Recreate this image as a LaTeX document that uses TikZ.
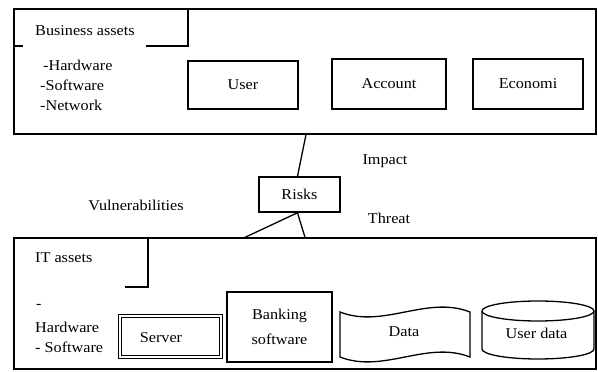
\documentclass[tikz,border=0pt]{standalone}
\usepackage{fontspec}
\setmainfont{Liberation Serif}[FakeStretch=1.08]
\begin{document}
\begin{tikzpicture}[x=1pt, y=-1pt,
  every node/.style={font=\fontsize{15}{18}\selectfont},
  frame/.style={draw, line width=1.3pt, inner sep=0pt},
  itembox/.style={draw, line width=1.5pt, inner sep=0pt},
  lbl/.style={inner sep=0pt},
  link/.style={line width=1.3pt}]
\useasboundingbox (0,0) rectangle (598,372);
\fill[white] (0,0) rectangle (598,372);

% business assets frame and its label tab
\node[frame, minimum width=582pt, minimum height=125pt] (biz) at (305,71.5) {};
\draw[link] (188,9) -- (188,46) -- (146,46);
\draw[link] (14,46) -- (23,46);
\node[lbl, anchor=west] (bizlbl) at (35,31) {Business assets};
\node[lbl, anchor=west] (bizhw) at (43,65) {-Hardware};
\node[lbl, anchor=west] (bizsw) at (40,85) {-Software};
\node[lbl, anchor=west] (biznw) at (40,105) {-Network};

\node[itembox, minimum width=110pt, minimum height=48pt] (user) at (243,85) {User};
\node[itembox, minimum width=114pt, minimum height=50pt] (account) at (389,84) {Account};
\node[itembox, minimum width=110pt, minimum height=50pt] (econ) at (528,84) {Economi};

% risks in the middle
\node[itembox, minimum width=81pt, minimum height=35pt] (risks) at (299.5,194.5) {Risks};
\node[lbl] (impact) at (385,161) {Impact};
\node[lbl] (threat) at (389,218) {Threat};
\node[lbl] (vuln) at (136,205) {Vulnerabilities};

% IT assets frame and its label tab
\node[frame, minimum width=582pt, minimum height=131pt] (its) at (305,303.5) {};
\draw[link] (148,239) -- (148,287) -- (125,287);
\node[lbl, anchor=west] (itlbl) at (35,258) {IT assets};
\node[lbl, anchor=west] (itdash) at (36,306) {-};
\node[lbl, anchor=west] (ithw) at (35,327) {Hardware};
\node[lbl, anchor=west] (itsw) at (35,347) {- Software};

\node[draw, double, double distance=2pt, line width=1pt, inner sep=0pt,
      minimum width=101pt, minimum height=41pt] (server) at (170.5,336.5) {};
\node[lbl] (serverlbl) at (161,338) {Server};

\node[itembox, minimum width=105pt, minimum height=70pt, align=center,
      font=\fontsize{15}{25}\selectfont] (bank) at (279.5,327) {Banking\\software};

% punched tape for the data store
\draw[line width=1.3pt]
  (340,312) .. controls (383.3,329) and (426.7,295) .. (470,312)
  -- (470,357) .. controls (426.7,340) and (383.3,374) .. (340,357) -- cycle;
\node[lbl] (data) at (404,332) {Data};

% user data cylinder
\draw[line width=1.3pt] (482,311) -- (482,349) arc[start angle=180, end angle=360, x radius=56, y radius=-10]
  -- (594,311);
\draw[line width=1.3pt] (538,311) ellipse[x radius=56, y radius=10];
\node[lbl] (udata) at (536.5,333) {User data};

% connectors
\draw[link] ([xshift=1pt]biz.south) -- ([xshift=-2pt]risks.north);
\draw[link] ([xshift=-2pt]risks.south) -- (its.north);
\draw[link] ([xshift=-2pt]risks.south) -- ([xshift=-60pt]its.north);
\end{tikzpicture}
\end{document}
